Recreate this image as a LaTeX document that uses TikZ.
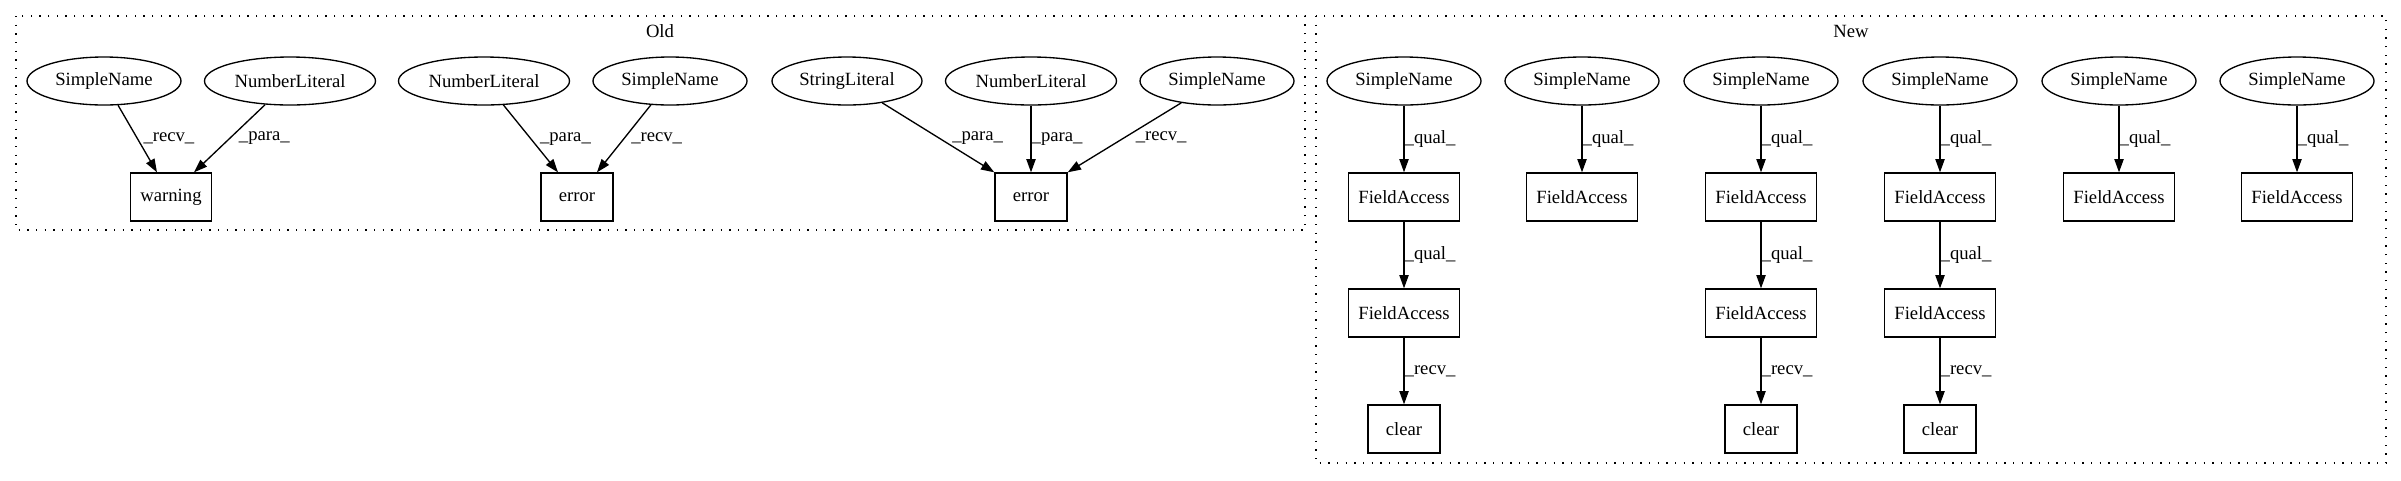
\documentclass[tikz,border=0pt]{standalone}
\usepackage{fontspec}
\setmainfont{Liberation Serif}
\usetikzlibrary{
    shapes.geometric,
    arrows.meta,
    positioning
}
\tikzset{
    leaf/.style={draw, ellipse, line width=1pt, inner sep=0pt, minimum height=36pt, minimum width=#1},
    leaf/.default=115.5pt,
    call/.style={draw, rectangle, line width=1pt, inner xsep=7.5pt, inner ysep=0pt, minimum height=36pt, minimum width=54pt},
    flow/.style={line width=1pt, -{Triangle[length=10pt, width=7pt]}},
    lbl/.style={right, inner sep=0pt},
    cluster/.style={line width=1pt, dash pattern=on 1pt off 5.5pt}
}

\begin{document}
\begin{tikzpicture}[x=0.75pt, y=-0.75pt, font=\fontsize{14pt}{16pt}\selectfont]
                \useasboundingbox (0,0) rectangle (2401,480);

                % Old cluster
                \draw[cluster] (16,16) rectangle (1305,230);
                \node (oldlbl) at (660,31) {Old};

                \node[leaf] (sn1) at (104,81) {SimpleName};
                \node[leaf=128.25pt] (nl1) at (290,81) {NumberLiteral};
                \node[leaf=128.25pt] (nl2) at (484,81) {NumberLiteral};
                \node[leaf] (sn2) at (670,81) {SimpleName};
                \node[leaf=112.5pt] (sl3) at (847,81) {StringLiteral};
                \node[leaf=128.25pt] (nl3) at (1031,81) {NumberLiteral};
                \node[leaf] (sn3) at (1217,81) {SimpleName};

                \node[call] (warn) at (171,197) {warning};
                \node[call] (err1) at (577,197) {error};
                \node[call] (err2) at (1031,197) {error};

                \draw[flow] (sn1) -- node[lbl, xshift=4pt] {\_recv\_} ([xshift=-10.5pt]warn.north);
                \draw[flow] (nl1) -- node[lbl, xshift=6.5pt] {\_para\_} ([xshift=17.25pt]warn.north);
                \draw[flow] (nl2) -- node[lbl, xshift=6.5pt] {\_para\_} ([xshift=-14.25pt]err1.north);
                \draw[flow] (sn2) -- node[lbl, xshift=5pt] {\_recv\_} ([xshift=15pt]err1.north);
                \draw[flow] (sl3) -- node[lbl, xshift=10pt] {\_para\_} (err2.north west);
                \draw[flow] (nl3) -- node[lbl] {\_para\_} (err2);
                \draw[flow] (sn3) -- node[lbl, xshift=8pt] {\_recv\_} (err2.north east);

                % New cluster
                \draw[cluster] (1316,16) rectangle (2386,463);
                \node (newlbl) at (1851,31) {New};

                \node[leaf] (na) at (1404,81) {SimpleName};
                \node[leaf] (nb) at (1582,81) {SimpleName};
                \node[leaf] (nc) at (1761,81) {SimpleName};
                \node[leaf] (nd) at (1940,81) {SimpleName};
                \node[leaf] (ne) at (2119,81) {SimpleName};
                \node[leaf] (nf) at (2297,81) {SimpleName};

                \node[call] (fa1) at (1404,197) {FieldAccess};
                \node[call] (fb1) at (1582,197) {FieldAccess};
                \node[call] (fc1) at (1761,197) {FieldAccess};
                \node[call] (fd1) at (1940,197) {FieldAccess};
                \node[call] (fe1) at (2119,197) {FieldAccess};
                \node[call] (ff1) at (2297,197) {FieldAccess};

                \node[call] (fa2) at (1404,313) {FieldAccess};
                \node[call] (fc2) at (1761,313) {FieldAccess};
                \node[call] (fd2) at (1940,313) {FieldAccess};

                \node[call] (clra) at (1404,429) {clear};
                \node[call] (clrc) at (1761,429) {clear};
                \node[call] (clrd) at (1940,429) {clear};

                \draw[flow] (na) -- node[lbl] {\_qual\_} (fa1);
                \draw[flow] (nb) -- node[lbl] {\_qual\_} (fb1);
                \draw[flow] (nc) -- node[lbl] {\_qual\_} (fc1);
                \draw[flow] (nd) -- node[lbl] {\_qual\_} (fd1);
                \draw[flow] (ne) -- node[lbl] {\_qual\_} (fe1);
                \draw[flow] (nf) -- node[lbl] {\_qual\_} (ff1);

                \draw[flow] (fa1) -- node[lbl] {\_qual\_} (fa2);
                \draw[flow] (fc1) -- node[lbl] {\_qual\_} (fc2);
                \draw[flow] (fd1) -- node[lbl] {\_qual\_} (fd2);

                \draw[flow] (fa2) -- node[lbl] {\_recv\_} (clra);
                \draw[flow] (fc2) -- node[lbl] {\_recv\_} (clrc);
                \draw[flow] (fd2) -- node[lbl] {\_recv\_} (clrd);
\end{tikzpicture}
\end{document}
